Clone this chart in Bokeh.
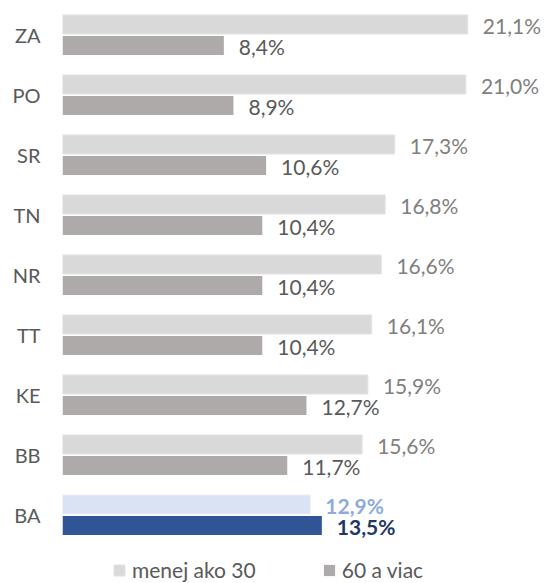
from bokeh.plotting import figure
from bokeh.models import ColumnDataSource, Range1d, FixedTicker, Legend, LegendItem
from bokeh.core.properties import value
from bokeh.embed import file_html
from bokeh.resources import INLINE

categories = ["ZA", "PO", "SR", "TN", "NR", "TT", "KE", "BB", "BA"]
under30 = [21.1, 21.0, 17.3, 16.8, 16.6, 16.1, 15.9, 15.6, 12.9]
over60 = [8.4, 8.9, 10.6, 10.4, 10.4, 10.4, 12.7, 11.7, 13.5]
series_names = ["menej ako 30", "60 a viac"]
highlight = "BA"

FONT = "Lato"
n = len(categories)
ypos = [n - 1 - i for i in range(n)]
hl = [c == highlight for c in categories]

def fmt(v):
    return f"{v:.1f}%".replace(".", ",")

src = ColumnDataSource(dict(
    y=ypos,
    y1=[y + 0.175 for y in ypos],
    y2=[y - 0.175 for y in ypos],
    a=under30,
    b=over60,
    la=[fmt(v) for v in under30],
    lb=[fmt(v) for v in over60],
    ca=["#dae3f3" if h else "#d9d9d9" for h in hl],
    cb=["#2f5597" if h else "#aeaaaa" for h in hl],
    ea=["#edf1f9" if h else "#e6e6e6" for h in hl],
    ta=["#8faadc" if h else "#808080" for h in hl],
    tb=["#1f3864" if h else "#595959" for h in hl],
    fs=["bold" if h else "normal" for h in hl],
))

p = figure(width=548, height=583, output_backend="svg", toolbar_location=None,
           x_range=Range1d(0, 25.3), y_range=Range1d(-1.1417, 8.575),
           min_border_left=62, min_border_right=0, min_border_top=0, min_border_bottom=0)
p.outline_line_color = None
p.xaxis.visible = False
p.xgrid.visible = False
p.ygrid.visible = False
p.background_fill_color = "white"
p.border_fill_color = "white"

yax = p.yaxis[0]
yax.ticker = FixedTicker(ticks=ypos)
yax.major_label_overrides = {y: c for y, c in zip(ypos, categories)}
yax.axis_line_color = None
yax.major_tick_line_color = None
yax.minor_tick_line_color = None
yax.major_tick_out = 0
yax.major_tick_in = 0
yax.major_label_standoff = 22
yax.major_label_text_font = FONT
yax.major_label_text_font_size = "20px"
yax.major_label_text_color = "#595959"

ra = p.hbar(y="y1", left=0, right="a", height=0.32, source=src,
            fill_color="ca", line_color="ea", line_width=1)
rb = p.hbar(y="y2", left=0, right="b", height=0.32, source=src,
            fill_color="cb", line_color=None)

p.text(x="a", y="y1", text="la", source=src, x_offset=15, y_offset=1,
       text_baseline="middle", text_align="left", text_font=value(FONT),
       text_font_size="21px", text_color="ta", text_font_style="fs")
p.text(x="b", y="y2", text="lb", source=src, x_offset=15, y_offset=1,
       text_baseline="middle", text_align="left", text_font=value(FONT),
       text_font_size="21px", text_color="tb", text_font_style="fs")

legend = Legend(items=[LegendItem(label=series_names[0], renderers=[ra], index=0),
                       LegendItem(label=series_names[1], renderers=[rb], index=0)],
                location=(50, 1), orientation="horizontal",
                glyph_width=14, glyph_height=14, label_standoff=6, spacing=66,
                padding=0, margin=0, border_line_color=None, background_fill_alpha=0,
                label_text_font=FONT, label_text_font_size="21px",
                label_text_color="#595959")
p.add_layout(legend, "center")

open("out.html", "w").write(file_html(p, INLINE))
